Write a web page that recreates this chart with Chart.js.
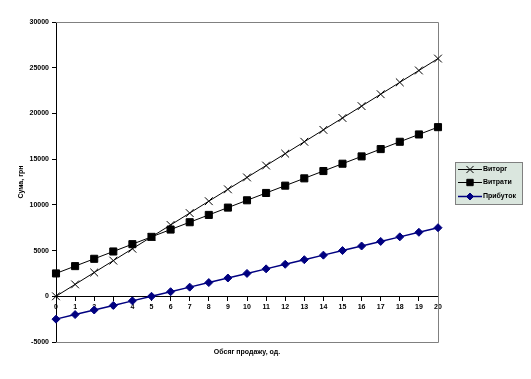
<!DOCTYPE html>
<html>
<head>
<meta charset="utf-8">
<script src="https://cdn.jsdelivr.net/npm/chart.js@4.4.1/dist/chart.umd.min.js"></script>
<style>
  html, body { margin: 0; padding: 0; background: #fff; }
  #wrap { width: 531px; height: 379px; }
</style>
</head>
<body>
<div id="wrap"><canvas id="breakEvenChart"></canvas></div>
<script>
const volumes = [0, 1, 2, 3, 4, 5, 6, 7, 8, 9, 10, 11, 12, 13, 14, 15, 16, 17, 18, 19, 20];
const revenue = [0, 1300, 2600, 3900, 5200, 6500, 7800, 9100, 10400, 11700, 13000, 14300, 15600, 16900, 18200, 19500, 20800, 22100, 23400, 24700, 26000];
const costs = [2500, 3300, 4100, 4900, 5700, 6500, 7300, 8100, 8900, 9700, 10500, 11300, 12100, 12900, 13700, 14500, 15300, 16100, 16900, 17700, 18500];
const profit = [-2500, -2000, -1500, -1000, -500, 0, 500, 1000, 1500, 2000, 2500, 3000, 3500, 4000, 4500, 5000, 5500, 6000, 6500, 7000, 7500];

const FONT = "'Liberation Sans', Arial, sans-serif";

// gray frame on top/right/bottom + x axis title
const framePlugin = {
    id: "frame",
    beforeDatasetsDraw(chart) {
        const { ctx, chartArea: a } = chart;
        ctx.save();
        ctx.strokeStyle = "#808080";
        ctx.lineWidth = 1;
        ctx.beginPath();
        ctx.moveTo(a.left, a.top + 0.5);
        ctx.lineTo(a.right + 0.5, a.top + 0.5);
        ctx.lineTo(a.right + 0.5, a.bottom + 0.5);
        ctx.lineTo(a.left, a.bottom + 0.5);
        ctx.stroke();
        ctx.restore();
    },
    afterDraw(chart) {
        const { ctx, chartArea: a } = chart;
        ctx.save();
        ctx.fillStyle = "#000";
        ctx.font = "bold 7px " + FONT;
        ctx.textAlign = "center";
        ctx.textBaseline = "middle";
        ctx.fillText("Обсяг продажу, од.", (a.left + a.right) / 2, 352);
        ctx.restore();
    }
};

// legend box drawn on the right like the original
const legendPlugin = {
    id: "boxLegend",
    afterDraw(chart) {
        const { ctx } = chart;
        const x = 455, y = 162, w = 67, h = 42;
        ctx.save();
        ctx.fillStyle = "#dae6de";
        ctx.fillRect(x, y, w, h);
        ctx.strokeStyle = "#808080";
        ctx.lineWidth = 1;
        ctx.strokeRect(x + 0.5, y + 0.5, w, h);
        const rows = [169, 182, 196];
        chart.data.datasets.forEach((ds, i) => {
            const ry = rows[i];
            ctx.strokeStyle = ds.borderColor;
            ctx.lineWidth = ds.borderWidth;
            ctx.beginPath();
            ctx.moveTo(x + 3, ry + 0.5);
            ctx.lineTo(x + 27, ry + 0.5);
            ctx.stroke();
            ctx.fillStyle = ds.pointBackgroundColor;
            ctx.strokeStyle = ds.pointBorderColor;
            ctx.lineWidth = 1;
            Chart.helpers.drawPoint(ctx, { pointStyle: ds.pointStyle, radius: ds.pointRadius - 0.5, borderWidth: 1 }, x + 15, ry + 0.5);
            ctx.fillStyle = "#000";
            ctx.font = "bold 7px " + FONT;
            ctx.textAlign = "left";
            ctx.textBaseline = "middle";
            ctx.fillText(ds.label, x + 28, ry);
        });
        ctx.restore();
    }
};

const ctx = document.getElementById("breakEvenChart").getContext("2d");
new Chart(ctx, {
    type: "line",
    data: {
        labels: volumes,
        datasets: [{
            label: "Виторг",
            data: revenue,
            borderColor: "#000000",
            borderWidth: 1,
            pointStyle: "crossRot",
            pointRadius: 5.5,
            pointBorderColor: "#000000",
            pointBackgroundColor: "#000000",
            pointBorderWidth: 1
        }, {
            label: "Витрати",
            data: costs,
            borderColor: "#000000",
            borderWidth: 1,
            pointStyle: "rect",
            pointRadius: 5,
            pointBorderColor: "#000000",
            pointBackgroundColor: "#000000",
            pointBorderWidth: 1
        }, {
            label: "Прибуток",
            data: profit,
            borderColor: "#000080",
            borderWidth: 1.5,
            pointStyle: "rectRot",
            pointRadius: 4,
            pointBorderColor: "#000080",
            pointBackgroundColor: "#000080",
            pointBorderWidth: 1
        }]
    },
    options: {
        responsive: true,
        maintainAspectRatio: false,
        animation: false,
        layout: { padding: { top: 22, right: 93, bottom: 37, left: 0 } },
        plugins: {
            legend: { display: false },
            tooltip: { enabled: false }
        },
        scales: {
            x: {
                type: "category",
                offset: false,
                position: { y: 0 },
                grid: { drawOnChartArea: false, tickLength: 4, color: "#000" },
                border: { color: "#000", width: 1 },
                ticks: { color: "#000", font: { family: FONT, size: 7, weight: "bold" }, padding: 3, maxRotation: 0, autoSkip: false }
            },
            y: {
                min: -5000,
                max: 30000,
                afterFit: scale => { scale.width = 56; },
                grid: { drawOnChartArea: false, tickLength: 4, color: "#000" },
                border: { color: "#000", width: 1 },
                ticks: {
                    stepSize: 5000,
                    color: "#000",
                    font: { family: FONT, size: 7, weight: "bold" },
                    padding: 3,
                    callback: v => String(v)
                },
                title: { display: true, text: "Сума, грн", color: "#000", font: { family: FONT, size: 7, weight: "bold" }, padding: { top: 17, bottom: 0 } }
            }
        }
    },
    plugins: [framePlugin, legendPlugin]
});
</script>
</body>
</html>
